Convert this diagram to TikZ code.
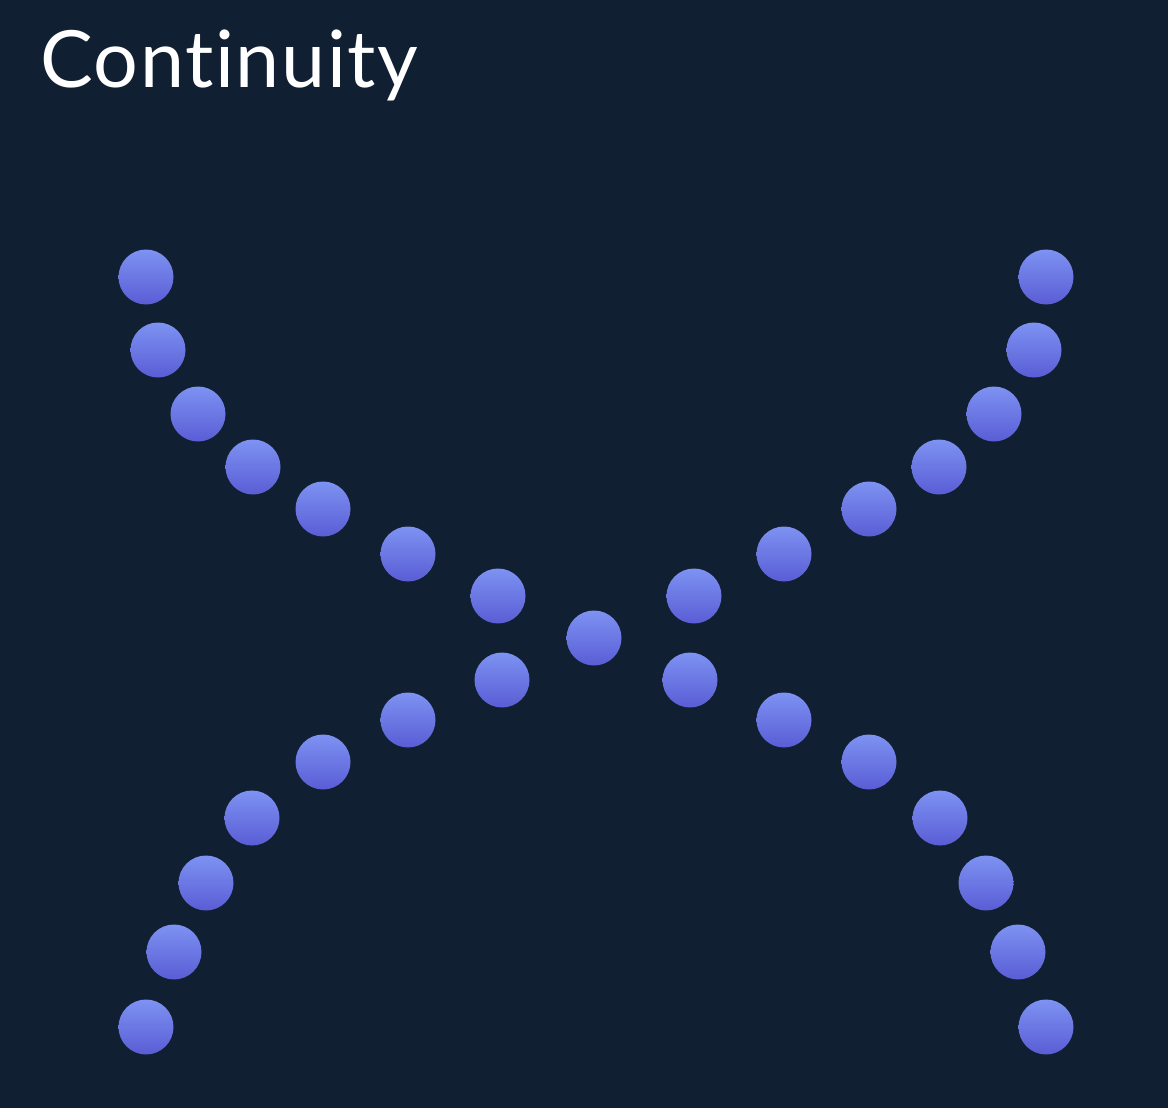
\documentclass[tikz,border=0pt]{standalone}
\usepackage{fontspec}
\setmainfont{Lato}[Ligatures={NoCommon}]
\definecolor{bg}{HTML}{111F32}
\definecolor{dotTop}{HTML}{7D92F2}
\definecolor{dotBot}{HTML}{5A5DD5}
\begin{document}
\begin{tikzpicture}[x=1pt,y=-1pt,
  dot/.style={circle, minimum size=55pt, inner sep=0pt, top color=dotTop, bottom color=dotBot, draw=none},
  title/.style={text=white, inner sep=0pt, anchor=base west, font=\fontsize{79}{80}\selectfont\addfontfeatures{LetterSpace=2}}]
\fill[bg] (0,0) rectangle (1168,1108);
\useasboundingbox (0,0) rectangle (1168,1108);
\node[title] (t) at (40,88) {Continuity};
% top-left arm
\node[dot] (tl1) at (146,277) {};
\node[dot] (tl2) at (158,350) {};
\node[dot] (tl3) at (198,414) {};
\node[dot] (tl4) at (253,467) {};
\node[dot] (tl5) at (323,509) {};
\node[dot] (tl6) at (408,554) {};
\node[dot] (tl7) at (498,596) {};
% centre
\node[dot] (c) at (594,638) {};
% top-right arm
\node[dot] (tr1) at (1046,277) {};
\node[dot] (tr2) at (1034,350) {};
\node[dot] (tr3) at (994,414) {};
\node[dot] (tr4) at (939,467) {};
\node[dot] (tr5) at (869,509) {};
\node[dot] (tr6) at (784,554) {};
\node[dot] (tr7) at (694,596) {};
% bottom-left arm
\node[dot] (bl1) at (146,1027) {};
\node[dot] (bl2) at (174,952) {};
\node[dot] (bl3) at (206,883) {};
\node[dot] (bl4) at (252,818) {};
\node[dot] (bl5) at (323,762) {};
\node[dot] (bl6) at (408,720) {};
\node[dot] (bl7) at (502,680) {};
% bottom-right arm
\node[dot] (br1) at (1046,1027) {};
\node[dot] (br2) at (1018,952) {};
\node[dot] (br3) at (986,883) {};
\node[dot] (br4) at (940,818) {};
\node[dot] (br5) at (869,762) {};
\node[dot] (br6) at (784,720) {};
\node[dot] (br7) at (690,680) {};
\end{tikzpicture}
\end{document}
